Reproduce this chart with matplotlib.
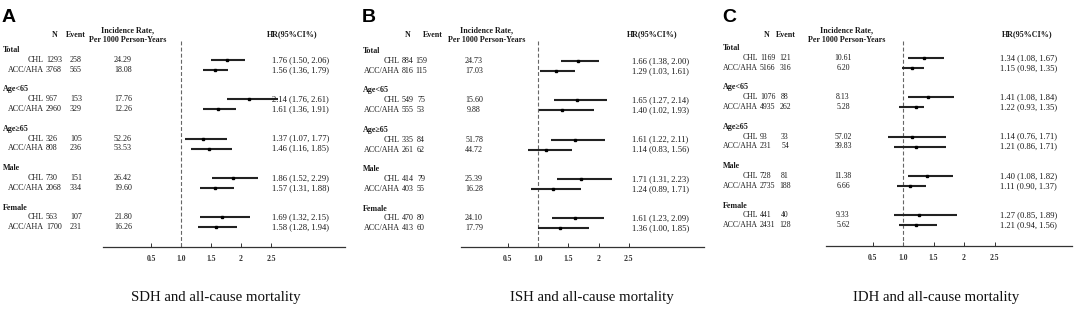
import matplotlib
matplotlib.use('Agg')
from matplotlib import pyplot as plt

plt.rcParams['font.family'] = ['Liberation Serif', 'DejaVu Serif']

# Subgroups
groups = ['Total', 'Age<65', 'Age\u226565', 'Male', 'Female']
arms = ['CHL', 'ACC/AHA']

# A: SDH
sdh_n_chl = [1293, 967, 326, 730, 563]
sdh_n_acc = [3768, 2960, 808, 2068, 1700]
sdh_ev_chl = [258, 153, 105, 151, 107]
sdh_ev_acc = [565, 329, 236, 334, 231]
sdh_ir_chl = [24.29, 17.76, 52.26, 26.42, 21.80]
sdh_ir_acc = [18.08, 12.26, 53.53, 19.60, 16.26]
sdh_hr_chl = [1.76, 2.14, 1.37, 1.86, 1.69]
sdh_lo_chl = [1.50, 1.76, 1.07, 1.52, 1.32]
sdh_hi_chl = [2.06, 2.61, 1.77, 2.29, 2.15]
sdh_hr_acc = [1.56, 1.61, 1.46, 1.57, 1.58]
sdh_lo_acc = [1.36, 1.36, 1.16, 1.31, 1.28]
sdh_hi_acc = [1.79, 1.91, 1.85, 1.88, 1.94]

# B: ISH
ish_n_chl = [884, 549, 335, 414, 470]
ish_n_acc = [816, 555, 261, 403, 413]
ish_ev_chl = [159, 75, 84, 79, 80]
ish_ev_acc = [115, 53, 62, 55, 60]
ish_ir_chl = [24.73, 15.60, 51.78, 25.39, 24.10]
ish_ir_acc = [17.03, 9.88, 44.72, 16.28, 17.79]
ish_hr_chl = [1.66, 1.65, 1.61, 1.71, 1.61]
ish_lo_chl = [1.38, 1.27, 1.22, 1.31, 1.23]
ish_hi_chl = [2.00, 2.14, 2.11, 2.23, 2.09]
ish_hr_acc = [1.29, 1.40, 1.14, 1.24, 1.36]
ish_lo_acc = [1.03, 1.02, 0.83, 0.89, 1.00]
ish_hi_acc = [1.61, 1.93, 1.56, 1.71, 1.85]

# C: IDH
idh_n_chl = [1169, 1076, 93, 728, 441]
idh_n_acc = [5166, 4935, 231, 2735, 2431]
idh_ev_chl = [121, 88, 33, 81, 40]
idh_ev_acc = [316, 262, 54, 188, 128]
idh_ir_chl = [10.61, 8.13, 57.02, 11.38, 9.33]
idh_ir_acc = [6.20, 5.28, 39.83, 6.66, 5.62]
idh_hr_chl = [1.34, 1.41, 1.14, 1.40, 1.27]
idh_lo_chl = [1.08, 1.08, 0.76, 1.08, 0.85]
idh_hi_chl = [1.67, 1.84, 1.71, 1.82, 1.89]
idh_hr_acc = [1.15, 1.22, 1.21, 1.11, 1.21]
idh_lo_acc = [0.98, 0.93, 0.86, 0.90, 0.94]
idh_hi_acc = [1.35, 1.35, 1.71, 1.37, 1.56]

xticks = [0.5, 1.0, 1.5, 2.0, 2.5]
xtick_labels = ['0.5', '1.0', '1.5', '2', '2.5']
titles = ['SDH and all-cause mortality', 'ISH and all-cause mortality',
          'IDH and all-cause mortality']
letters = ['A', 'B', 'C']

W, H = 1084, 309
ROW_H = 9.85

# layout per panel (pixels)
layouts = [
    dict(x0=0, dash=181, unit=60.0, axis=(103, 345), bottom=247, row0=50,
         fs=5.8, lab=44, n=46, ev=76, ir=123, hr=272,
         h_n=55, h_ev=76, h_ir=128, h_hr=292, title=216),
    dict(x0=360, dash=538, unit=60.5, axis=(461, 704), bottom=247, row0=51,
         fs=5.8, lab=400, n=402, ev=421, ir=474, hr=632,
         h_n=408, h_ev=433, h_ir=487, h_hr=652, title=592),
    dict(x0=720, dash=903, unit=61.0, axis=(826, 1072), bottom=246, row0=48,
         fs=5.6, lab=758, n=760, ev=785, ir=843, hr=1000,
         h_n=767, h_ev=786, h_ir=847, h_hr=1027, title=936),
]

panels = [
    (sdh_n_chl, sdh_n_acc, sdh_ev_chl, sdh_ev_acc, sdh_ir_chl, sdh_ir_acc,
     sdh_hr_chl, sdh_lo_chl, sdh_hi_chl, sdh_hr_acc, sdh_lo_acc, sdh_hi_acc),
    (ish_n_chl, ish_n_acc, ish_ev_chl, ish_ev_acc, ish_ir_chl, ish_ir_acc,
     ish_hr_chl, ish_lo_chl, ish_hi_chl, ish_hr_acc, ish_lo_acc, ish_hi_acc),
    (idh_n_chl, idh_n_acc, idh_ev_chl, idh_ev_acc, idh_ir_chl, idh_ir_acc,
     idh_hr_chl, idh_lo_chl, idh_hi_chl, idh_hr_acc, idh_lo_acc, idh_hi_acc),
]

fig = plt.figure(figsize=(W / 100, H / 100), dpi=100)
fig.patch.set_facecolor('white')

HDR = 5.8
HRFS = 6.2
TXT_C = '#1a1a1a'


def draw_panel(lay, data, letter, title):
    (n_chl, n_acc, ev_chl, ev_acc, ir_chl, ir_acc,
     hr_chl, lo_chl, hi_chl, hr_acc, lo_acc, hi_acc) = data
    dash, unit, x0 = lay['dash'], lay['unit'], lay['x0']
    row0, bottom, fs = lay['row0'], lay['bottom'], lay['fs']

    def hx(px):
        return 1 + (px - dash) / unit

    def hy(py):
        return (py - row0) / ROW_H

    ax = fig.add_axes([x0 / W, (H - bottom) / H, 360 / W, bottom / H])
    ax.set_xlim(hx(x0), hx(x0 + 360))
    ybot = hy(bottom)
    ax.set_ylim(ybot, hy(0))
    ax.patch.set_alpha(0)
    for s in ['top', 'right', 'left']:
        ax.spines[s].set_visible(False)
    ax.spines['bottom'].set_bounds(hx(lay['axis'][0]), hx(lay['axis'][1]))
    ax.spines['bottom'].set_linewidth(0.9)
    ax.spines['bottom'].set_color('#333333')
    ax.set_yticks([])
    ax.set_xticks(xticks)
    ax.set_xticklabels(xtick_labels, fontweight='bold')
    ax.tick_params(axis='x', direction='in', length=3, width=0.7,
                   labelsize=5.5, pad=6, colors='#333333')

    # reference line at HR = 1
    ax.plot([1, 1], [hy(41), ybot], color='#666666', lw=0.8,
            ls=(0, (3.5, 2)), clip_on=False)

    # header
    ax.text(hx(lay['h_n']), hy(35), 'N', ha='center', va='center',
            fontsize=HDR, fontweight='bold', color=TXT_C)
    ax.text(hx(lay['h_ev']), hy(35), 'Event', ha='center', va='center',
            fontsize=HDR, fontweight='bold', color=TXT_C)
    ax.text(hx(lay['h_ir']), hy(30), 'Incidence Rate,', ha='center',
            va='center', fontsize=HDR, fontweight='bold', color=TXT_C)
    ax.text(hx(lay['h_ir']), hy(40), 'Per 1000 Person-Years', ha='center',
            va='center', fontsize=HDR, fontweight='bold', color=TXT_C)
    ax.text(hx(lay['h_hr']), hy(34), 'HR(95%CI%)', ha='center', va='center',
            fontsize=HDR, fontweight='bold', color=TXT_C)

    for g, name in enumerate(groups):
        r = 4 * g
        ax.text(hx(x0 + 3), r, name, ha='left', va='center', fontsize=HDR,
                fontweight='bold', color=TXT_C)
        rows = [(r + 1, arms[0], n_chl[g], ev_chl[g], ir_chl[g],
                 hr_chl[g], lo_chl[g], hi_chl[g]),
                (r + 2, arms[1], n_acc[g], ev_acc[g], ir_acc[g],
                 hr_acc[g], lo_acc[g], hi_acc[g])]
        for row, arm, n, ev, ir, hr, lo, hi in rows:
            ax.text(hx(lay['lab']), row, arm, ha='right', va='center',
                    fontsize=fs, color=TXT_C)
            ax.text(hx(lay['n']), row, str(n), ha='left', va='center',
                    fontsize=fs, color=TXT_C)
            ax.text(hx(lay['ev']), row, str(ev), ha='center', va='center',
                    fontsize=fs, color=TXT_C)
            ax.text(hx(lay['ir']), row, '{:.2f}'.format(ir), ha='center',
                    va='center', fontsize=fs, color=TXT_C)
            ax.text(hx(lay['hr']), row,
                    '{:.2f} ({:.2f}, {:.2f})'.format(hr, lo, hi),
                    ha='left', va='center', fontsize=HRFS, color=TXT_C)
            ax.hlines(row, lo, hi, color='#222222', lw=1.5)
            ax.plot(hr, row, 's', color='black', ms=1.9)

    fig.text((x0 + 2) / W, 1 - 17 / H, letter, ha='left', va='center',
             fontsize=14, fontweight='bold', family='Liberation Sans')
    fig.text(lay['title'] / W, 1 - 297 / H, title, ha='center', va='center',
             fontsize=10.7, color='#111111')


for lay, data, letter, title in zip(layouts, panels, letters, titles):
    draw_panel(lay, data, letter, title)

fig.savefig('out.png', dpi=100)
